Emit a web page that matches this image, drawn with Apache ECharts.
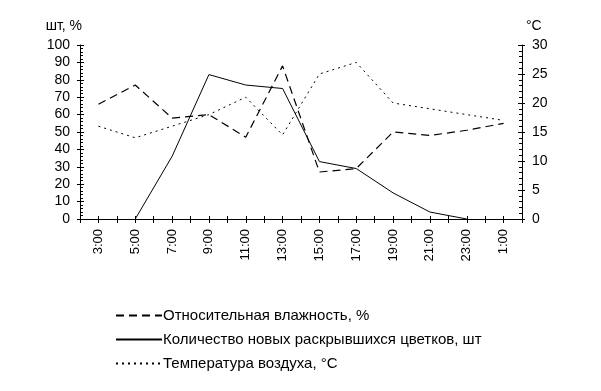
<!DOCTYPE html>
<html>
<head>
<meta charset="utf-8">
<script src="https://cdn.jsdelivr.net/npm/echarts@6/dist/echarts.min.js"></script>
<style>
  html, body { margin: 0; padding: 0; background: #fff; }
  #chart { width: 601px; height: 391px; }
</style>
</head>
<body>
<div id="chart"></div>
<script>
// часы наблюдений (через 2 часа)
var hours = ["3:00", "5:00", "7:00", "9:00", "11:00", "13:00", "15:00", "17:00", "19:00", "21:00", "23:00", "1:00"];
// относительная влажность, %
var humidity = [66, 77, 58, 60, 47, 88, 27, 29, 50, 48, 51, 55];
// количество новых раскрывшихся цветков, шт
var flowers = [null, 0, 36, 83, 77, 75, 33, 29, 15, 4, 0, null];
// температура воздуха, °C
var temperature = [16, 14, 16, 18, 21, 14.5, 25, 27, 20, 19, 18, 17];

var font = "Liberation Sans, Arial, sans-serif";

// ось по часам: промежуточные часы пустые, чтобы получить засечки каждый час
var axisCats = [""];
hours.forEach(function(h) {
  axisCats.push(h);
  axisCats.push("");
});

function spread(values) {
  var out = [null];
  values.forEach(function(v) {
    out.push(v);
    out.push(null);
  });
  return out;
}

// копия оси только ради засечек с внутренней стороны
function tickOnlyY(pos, max, interval) {
  return {
    type: "value",
    position: pos,
    min: 0,
    max: max,
    interval: interval,
    axisLine: { show: false },
    axisTick: { show: true, inside: true, length: 4, lineStyle: { color: "#000" } },
    minorTick: { show: true, splitNumber: 5, length: 3, lineStyle: { color: "#000" } },
    axisLabel: { show: false },
    splitLine: { show: false }
  };
}

var myChart = echarts.init(document.getElementById("chart"));
myChart.setOption({
  animation: false,
  textStyle: { fontFamily: font, color: "#000" },
  grid: { left: 80, right: 79, top: 45, bottom: 172 },
  legend: {
    orient: "vertical",
    left: 110,
    top: 303,
    itemWidth: 46,
    itemHeight: 14,
    itemGap: 9,
    itemStyle: { opacity: 0 },
    textStyle: { fontFamily: font, fontSize: 15, color: "#000", padding: [0, 0, 0, -4] },
    data: ["Относительная влажность, %", "Количество новых раскрывшихся цветков, шт", "Температура воздуха, °C"]
  },
  xAxis: [
    {
      type: "category",
      boundaryGap: false,
      data: axisCats,
      axisLine: { lineStyle: { color: "#000", width: 1 } },
      axisTick: { interval: 0, length: 4, lineStyle: { color: "#000" } },
      axisLabel: {
        interval: 0,
        rotate: 90,
        margin: 10,
        fontSize: 13,
        color: "#000",
        fontFamily: font
      },
      splitLine: { show: false }
    },
    {
      type: "category",
      position: "bottom",
      boundaryGap: false,
      data: axisCats,
      axisLine: { show: false },
      axisTick: { interval: 0, inside: true, length: 3, lineStyle: { color: "#000" } },
      axisLabel: { show: false },
      splitLine: { show: false }
    }
  ],
  yAxis: [
    {
      type: "value",
      min: 0,
      max: 100,
      interval: 10,
      name: "шт, %",
      nameGap: 12,
      nameTextStyle: { fontFamily: font, fontSize: 14, color: "#000", align: "right", padding: [0, -2, 0, 0] },
      axisLine: { show: true, lineStyle: { color: "#000" } },
      axisTick: { show: true, length: 3, lineStyle: { color: "#000" } },
      axisLabel: { fontSize: 14, color: "#000", margin: 10, fontFamily: font },
      splitLine: { show: false }
    },
    {
      type: "value",
      min: 0,
      max: 30,
      interval: 5,
      name: "°C",
      nameGap: 12,
      nameTextStyle: { fontFamily: font, fontSize: 14, color: "#000", align: "left", padding: [0, 0, 0, 4] },
      axisLine: { show: true, lineStyle: { color: "#000" } },
      axisTick: { show: true, length: 3, lineStyle: { color: "#000" } },
      axisLabel: { fontSize: 14, color: "#000", margin: 10, fontFamily: font },
      splitLine: { show: false }
    },
    tickOnlyY("left", 100, 10),
    tickOnlyY("right", 30, 5)
  ],
  series: [
    {
      name: "Относительная влажность, %",
      type: "line",
      yAxisIndex: 0,
      connectNulls: true,
      symbol: "none",
      lineStyle: { color: "#000", width: 1.2, type: [8, 5] },
      itemStyle: { color: "#000" },
      data: spread(humidity)
    },
    {
      name: "Количество новых раскрывшихся цветков, шт",
      type: "line",
      yAxisIndex: 0,
      connectNulls: true,
      symbol: "none",
      lineStyle: { color: "#000", width: 1 },
      itemStyle: { color: "#000" },
      data: spread(flowers)
    },
    {
      name: "Температура воздуха, °C",
      type: "line",
      yAxisIndex: 1,
      connectNulls: true,
      symbol: "none",
      lineStyle: { color: "#000", width: 1, type: [2, 4] },
      itemStyle: { color: "#000" },
      data: spread(temperature)
    }
  ]
});
</script>
</body>
</html>
